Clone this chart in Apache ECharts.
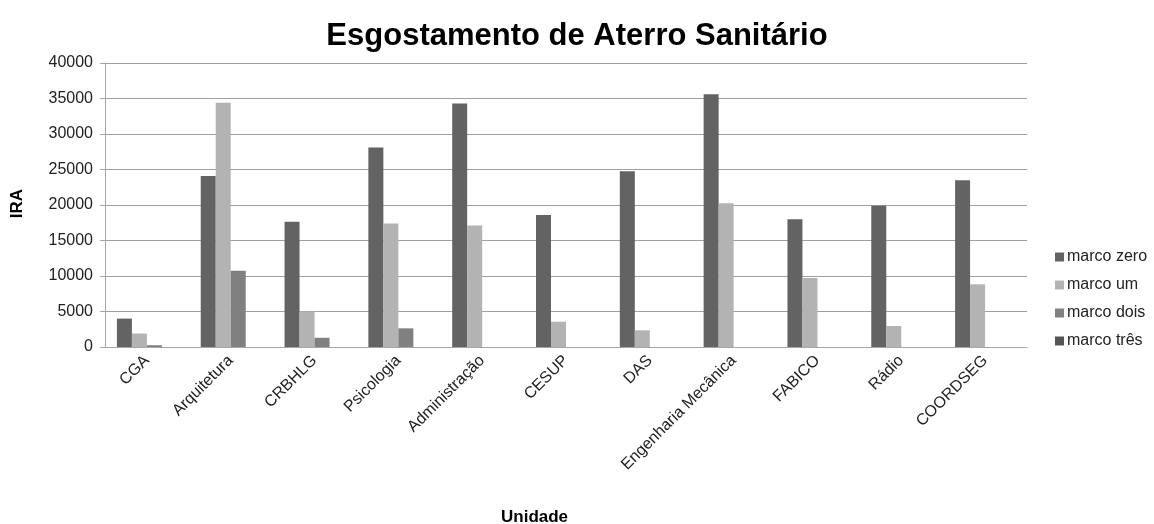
<!DOCTYPE html>
<html>
<head>
<meta charset="utf-8">
<script src="https://cdn.jsdelivr.net/npm/echarts@6/dist/echarts.min.js"></script>
<style>html,body{margin:0;padding:0;background:#fff}#c{width:1154px;height:524px}</style>
</head>
<body>
<div id="c"></div>
<script>
var categories = ['CGA','Arquitetura','CRBHLG','Psicologia','Administração','CESUP','DAS','Engenharia Mecânica','FABICO','Rádio','COORDSEG'];
var marcoZero = [4000, 24100, 17650, 28100, 34300, 18600, 24750, 35600, 18000, 19900, 23500];
var marcoUm   = [1900, 34400, 5000, 17400, 17100, 3560, 2350, 20250, 9720, 2960, 8830];
var marcoDois = [250, 10750, 1300, 2630, 0, 0, 0, 0, 0, 0, 0];
var marcoTres = [0, 0, 0, 0, 0, 0, 0, 0, 0, 0, 0];
var seriesNames = ['marco zero','marco um','marco dois','marco três'];
var seriesColors = ['#636363','#b3b3b3','#808080','#555555'];

var chart = echarts.init(document.getElementById('c'));
var font = 'Liberation Sans, Arial, sans-serif';
var data = [marcoZero, marcoUm, marcoDois, marcoTres];
chart.setOption({
  animation: false,
  textStyle: {fontFamily: font},
  title: {
    text: 'Esgostamento de Aterro Sanitário',
    left: 'center', top: 16,
    textStyle: {fontFamily: font, fontSize: 31, fontWeight: 'bold', color: '#000'}
  },
  legend: {
    orient: 'vertical', left: 1050, top: 244,
    itemWidth: 9, itemHeight: 9, itemGap: 12, itemStyle: {borderWidth: 0},
    icon: 'rect',
    textStyle: {fontFamily: font, fontSize: 16, color: '#222', padding: [0,0,0,-2]},
    data: seriesNames
  },
  grid: {left: 105, right: 127, top: 63, bottom: 177, containLabel: false},
  xAxis: {
    type: 'category', data: categories,
    axisLine: {lineStyle: {color: '#a6a6a6', width: 1}},
    axisTick: {show: false},
    axisLabel: {rotate: 45, interval: 0, fontSize: 16, color: '#222', margin: 11, fontFamily: font}
  },
  yAxis: {
    type: 'value', min: 0, max: 40000, interval: 5000,
    axisLine: {show: true, lineStyle: {color: '#a6a6a6'}},
    axisTick: {show: true, length: 5, lineStyle: {color: '#a6a6a6'}},
    splitLine: {lineStyle: {color: '#a0a0a0', width: 1}},
    axisLabel: {fontSize: 16, color: '#222', margin: 12, fontFamily: font,
      formatter: function(v){ return String(v); }}
  },
  graphic: [
    {type: 'text', left: 9, top: 189, rotation: Math.PI/2,
     style: {text: 'IRA', font: 'bold 17px Liberation Sans, Arial, sans-serif', fill: '#000'}},
    {type: 'text', left: 501, top: 509,
     style: {text: 'Unidade', font: 'bold 17px Liberation Sans, Arial, sans-serif', fill: '#000'}}
  ],
  series: seriesNames.map(function(n, i){
    return {
      name: n, type: 'bar', data: data[i], barWidth: 15, barGap: '0%',
      itemStyle: {color: seriesColors[i]}
    };
  })
});
</script>
</body>
</html>
